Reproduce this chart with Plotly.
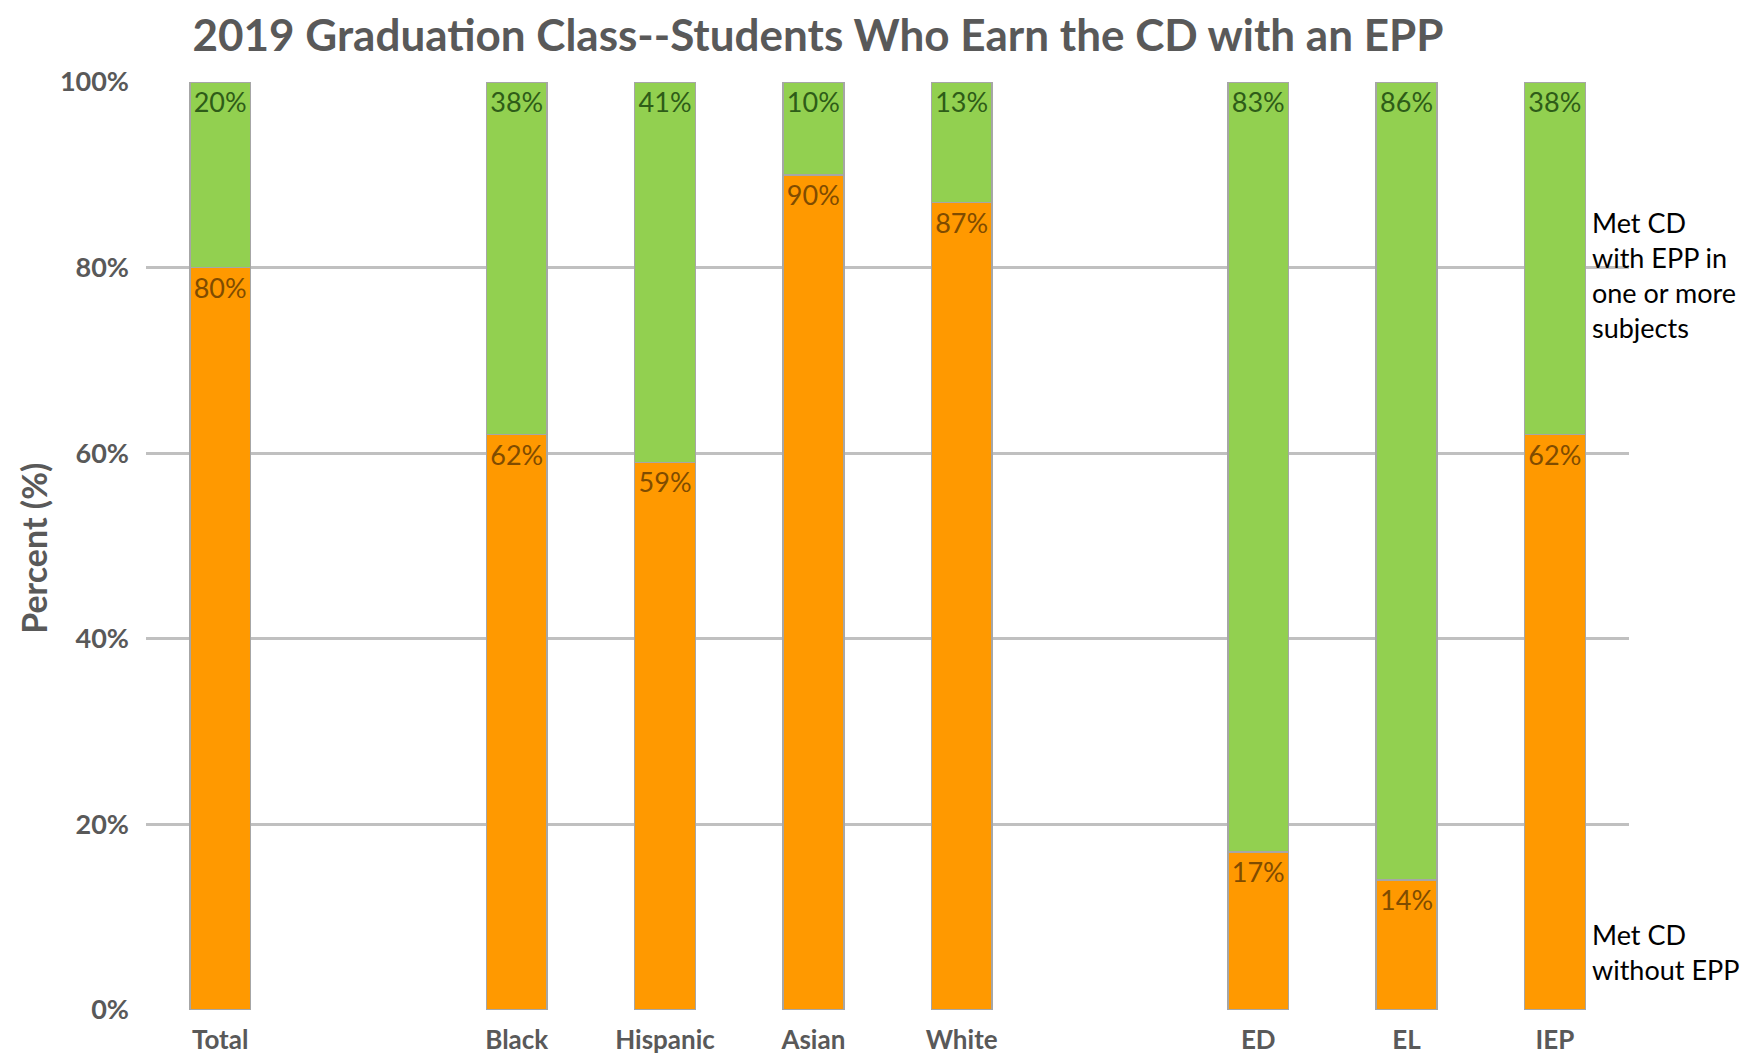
"""Stacked percent bars: 2019 graduation class, CD with / without EPP"""
import plotly.graph_objects as go

# groups of categories, a blank slot is left between groups
GROUPS = [["Total"], ["Black", "Hispanic", "Asian", "White"], ["ED", "EL", "IEP"]]
without_epp = [80, 62, 59, 90, 87, 17, 14, 62]
with_epp = [20, 38, 41, 10, 13, 83, 86, 38]
y_ticks = [0, 20, 40, 60, 80, 100]

ORANGE = "#FF9900"
GREEN = "#92D050"
GREY_TEXT = "#595959"
FONT = "Lato"

# x positions: one empty slot between groups
categories = []
x_pos = []
pos = 0
for group in GROUPS:
    for name in group:
        categories.append(name)
        x_pos.append(pos)
        pos += 1
    pos += 1
last_pos = x_pos[-1]

fig = go.Figure()
fig.add_trace(
    go.Bar(
        x=x_pos,
        y=without_epp,
        name="Met CD without EPP",
        marker=dict(color=ORANGE, line=dict(color="#A6A6A6", width=1.5)),
        text=[f"{v}%" for v in without_epp],
        textposition="inside",
        insidetextanchor="end",
        textangle=0,
        constraintext="none",
        textfont=dict(family=FONT, size=27, color="#7F4C00"),
        width=0.41,
    )
)
fig.add_trace(
    go.Bar(
        x=x_pos,
        y=with_epp,
        name="Met CD with EPP",
        marker=dict(color=GREEN, line=dict(color="#A6A6A6", width=1.5)),
        text=[f"{v}%" for v in with_epp],
        textposition="inside",
        insidetextanchor="end",
        textangle=0,
        constraintext="none",
        textfont=dict(family=FONT, size=27, color="#2E5C18"),
        width=0.41,
    )
)

# the page body adds an 8px margin, so the figure is 8px smaller
fig.update_layout(
    barmode="stack",
    width=1748,
    height=1049,
    margin=dict(l=138, r=127, t=74, b=47),
    plot_bgcolor="white",
    paper_bgcolor="white",
    showlegend=False,
    title=dict(
        text="<b>2019 Graduation Class--Students Who Earn the CD with an EPP</b>",
        x=0.4634,
        xanchor="center",
        y=0.974,
        yanchor="middle",
        font=dict(family=FONT, size=44, color=GREY_TEXT),
    ),
    font=dict(family=FONT, color=GREY_TEXT),
)

fig.update_xaxes(
    range=[-0.5, last_pos + 0.5],
    tickvals=x_pos,
    ticktext=[f"<b>{c}</b>" for c in categories],
    tickfont=dict(family=FONT, size=26, color=GREY_TEXT),
    showgrid=False,
    zeroline=False,
    ticks="",
    ticklabelstandoff=12,
    automargin=False,
)
fig.update_yaxes(
    range=[0, 100],
    tickvals=y_ticks,
    ticktext=[f"<b>{v}%</b>" for v in y_ticks],
    tickfont=dict(family=FONT, size=27, color=GREY_TEXT),
    showgrid=True,
    gridcolor="#C0C0C0",
    gridwidth=3,
    zeroline=False,
    ticklabelstandoff=16,
    automargin=False,
)

# y axis title
fig.add_annotation(
    text="<b>Percent (%)</b>",
    xref="paper", yref="paper", x=-0.0755, y=0.497,
    xanchor="center", yanchor="middle", textangle=-90, showarrow=False,
    font=dict(family=FONT, size=34, color=GREY_TEXT),
)

# right hand side series labels
fig.add_annotation(
    text="Met CD<br>with EPP in<br>one or more<br>subjects",
    xref="paper", yref="paper", x=0.974, y=0.792,
    xanchor="left", yanchor="middle", align="left", showarrow=False,
    font=dict(family=FONT, size=27, color="black"),
)
fig.add_annotation(
    text="Met CD<br>without EPP",
    xref="paper", yref="paper", x=0.974, y=0.0625,
    xanchor="left", yanchor="middle", align="left", showarrow=False,
    font=dict(family=FONT, size=27, color="black"),
)

fig.write_html("out.html")
